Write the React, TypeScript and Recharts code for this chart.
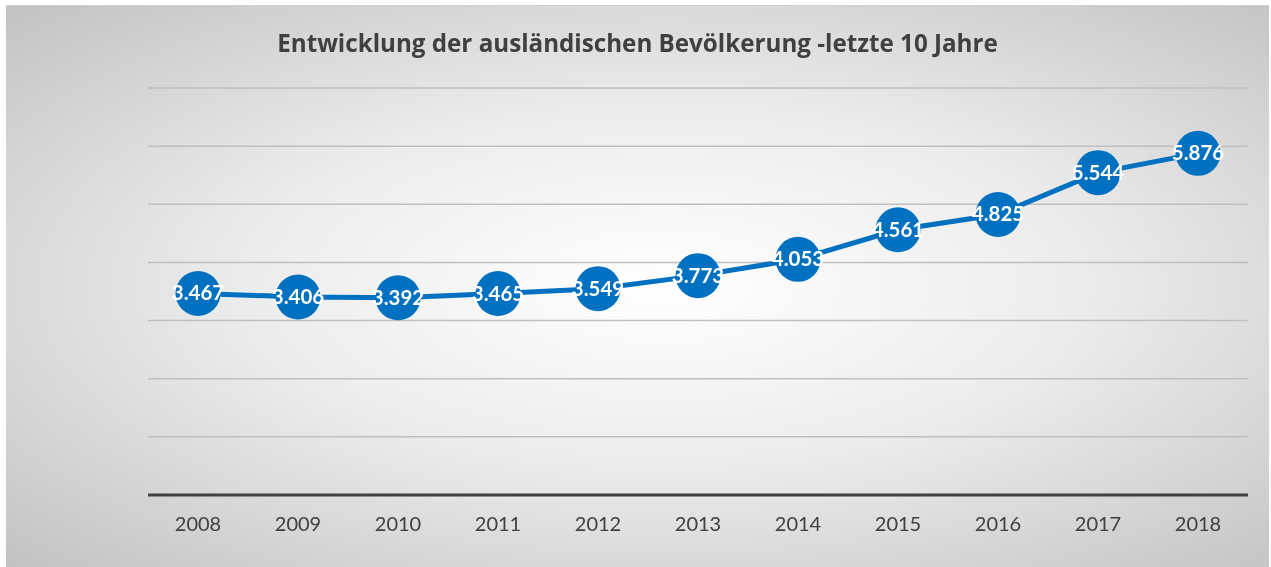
import React from "react";
import { LineChart, Line, XAxis, YAxis, CartesianGrid, LabelList } from "recharts";

const years = ["2008", "2009", "2010", "2011", "2012", "2013", "2014", "2015", "2016", "2017", "2018"];
const foreigners = [3467, 3406, 3392, 3465, 3549, 3773, 4053, 4561, 4825, 5544, 5876];
const yTicks = [0, 1000, 2000, 3000, 4000, 5000, 6000, 7000];

const FONT = "Lato, 'Open Sans', sans-serif";
const TITLE_FONT = "'Open Sans', Lato, sans-serif";
const BLUE = "#0070C0";
const DARK = "#404040";

const data = years.map((year, i) => ({ year, value: foreigners[i] }));

function formatDe(v: number): string {
  const s = String(Math.round(v));
  return s.replace(/\B(?=(\d{3})+(?!\d))/g, ".");
}

function PointLabel(props: any) {
  const { x, y, value } = props;
  return (
    <text
      x={x}
      y={y}
      dy={7}
      textAnchor="middle"
      fill="#ffffff"
      fontFamily={FONT}
      fontWeight={700}
      fontSize={20.5}
    >
      {formatDe(value)}
    </text>
  );
}

export default function App() {
  return (
    <div
      style={{
        position: "fixed",
        left: 6,
        top: 5,
        width: 1263,
        height: 562,
        background: "radial-gradient(ellipse at 52% 50%, #ffffff 0%, #ececec 45%, #c2c2c2 100%)",
        borderTop: "1px solid #d0d0d0",
        boxSizing: "border-box",
        fontFamily: FONT,
      }}
    >
      <div
        style={{
          position: "absolute",
          left: 0,
          right: 0,
          top: 20,
          textAlign: "center",
          fontSize: 24.2,
          fontWeight: 700,
          color: DARK,
          fontFamily: TITLE_FONT,
        }}
      >
        Entwicklung der ausländischen Bevölkerung -letzte 10 Jahre
      </div>
      <LineChart
        width={1263}
        height={562}
        data={data}
        margin={{ top: 82, right: 21, left: 142, bottom: 43 }}
      >
        <CartesianGrid vertical={false} stroke="#bfbfbf" strokeWidth={1.5} />
        <XAxis
          dataKey="year"
          padding={{ left: 50, right: 50 }}
          axisLine={{ stroke: DARK, strokeWidth: 3 }}
          tickLine={false}
          tickMargin={16}
          tick={{ fontSize: 20, fill: DARK, fontFamily: FONT }}
          height={30}
        />
        <YAxis hide domain={[0, 7000]} ticks={yTicks} />
        <Line
          dataKey="value"
          stroke={BLUE}
          strokeWidth={5}
          dot={{ r: 22.5, fill: BLUE, stroke: "none" }}
          isAnimationActive={false}
        >
          <LabelList dataKey="value" content={<PointLabel />} />
        </Line>
      </LineChart>
    </div>
  );
}
